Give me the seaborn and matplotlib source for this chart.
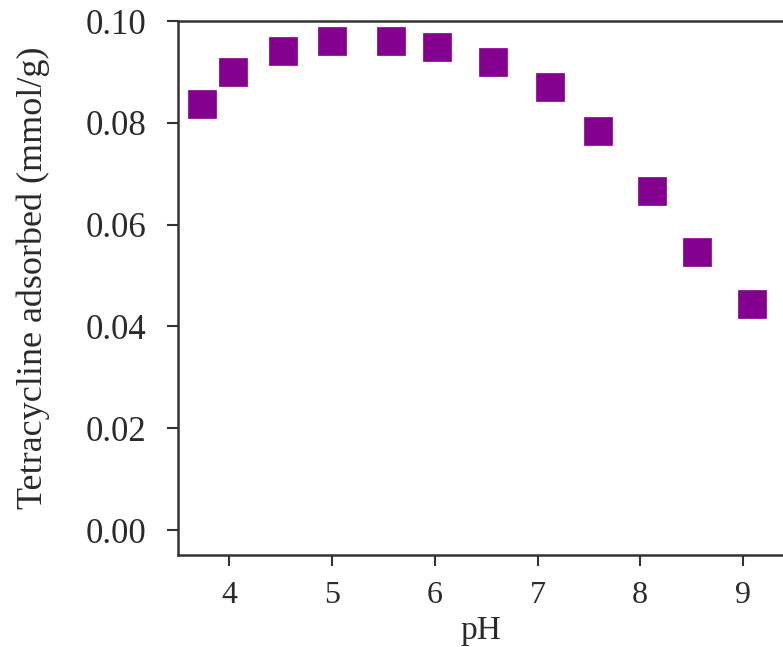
import matplotlib
matplotlib.use("Agg")
import matplotlib.pyplot as plt
import seaborn as sns
import pandas as pd

ph = [3.73, 4.04, 4.52, 5.00, 5.57, 6.02, 6.57, 7.12, 7.59, 8.11, 8.55, 9.09]
adsorbed = [0.0837, 0.0900, 0.0941, 0.0961, 0.0961, 0.0949, 0.0920, 0.0870, 0.0784, 0.0666, 0.0546, 0.0444]
xticks = [4, 5, 6, 7, 8, 9]
yticks = [0.00, 0.02, 0.04, 0.06, 0.08, 0.10]

sns.set_theme(style="ticks")
plt.rcParams['font.family'] = ['Liberation Serif', 'DejaVu Serif']

df = pd.DataFrame({"pH": ph, "ads": adsorbed})

W, H = 783, 647
fig = plt.figure(figsize=(W / 100, H / 100), dpi=100)
left, right, bottom, top = 178, 783, 555, 21
ax = fig.add_axes([left / W, 1 - bottom / H, (right - left) / W, (bottom - top) / H])

sns.scatterplot(data=df, x="pH", y="ads", ax=ax, marker="s", s=400,
                color="#84008f", edgecolor="#84008f", linewidth=0.5)

ax.set_xlim(3.5, 9.39)
ax.set_ylim(-0.0049, 0.1)
ax.set_xticks(xticks)
ax.set_yticks(yticks)
ax.set_xticklabels([str(v) for v in xticks])
ax.set_yticklabels([f"{v:.2f}" for v in yticks])
ax.tick_params(axis="both", direction="out", length=8, width=1.5, color="#333333",
               labelcolor="#2a2a2a")
ax.tick_params(axis="y", pad=15, labelsize=25)
ax.tick_params(axis="x", pad=11, labelsize=23)
for side in ["left", "bottom", "top"]:
    ax.spines[side].set_visible(True)
    ax.spines[side].set_color("#333333")
    ax.spines[side].set_linewidth(1.8)
ax.spines["right"].set_visible(False)

ax.set_xlabel("pH", fontsize=24, color="#2a2a2a", labelpad=4)
ax.set_ylabel("Tetracycline adsorbed (mmol/g)", fontsize=26, color="#2a2a2a")
ax.yaxis.set_label_coords(-(left - 50) / (right - left), 0.52)

fig.savefig("out.png", dpi=100)
